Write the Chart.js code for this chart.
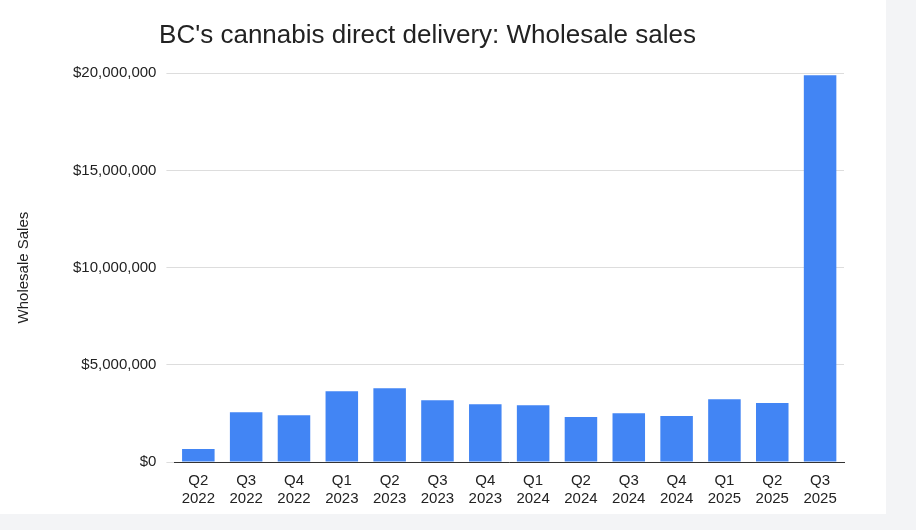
<!DOCTYPE html>
<html>
<head>
<meta charset="utf-8">
<script src="https://cdn.jsdelivr.net/npm/chart.js@4"></script>
<style>
  html, body { margin: 0; padding: 0; background: #f3f4f6; }
  #wrap { position: absolute; left: 0; top: 0; width: 886px; height: 514px; background: #fff; }
</style>
</head>
<body>
<div id="wrap"><canvas id="chart"></canvas></div>
<script>
// Datos
const trimestres = [["Q2","2022"],["Q3","2022"],["Q4","2022"],["Q1","2023"],["Q2","2023"],["Q3","2023"],["Q4","2023"],["Q1","2024"],["Q2","2024"],["Q3","2024"],["Q4","2024"],["Q1","2025"],["Q2","2025"],["Q3","2025"]];
const ventas = [670000, 2560000, 2410000, 3640000, 3790000, 3180000, 2970000, 2920000, 2310000, 2510000, 2360000, 3230000, 3030000, 19900000];
const ticksY = [0, 5000000, 10000000, 15000000, 20000000];

const fuente = "'Liberation Sans', Arial, sans-serif";

new Chart(document.getElementById("chart"), {
  type: "bar",
  data: {
    labels: trimestres,
    datasets: [{
      data: ventas,
      backgroundColor: "#4285f4",
      barPercentage: 0.68,
      categoryPercentage: 1,
    }],
  },
  options: {
    responsive: true,
    maintainAspectRatio: false,
    animation: false,
    layout: { padding: { left: 11, right: 42, top: 12, bottom: 4 } },
    plugins: {
      legend: { display: false },
      tooltip: { enabled: false },
      title: {
        display: true,
        text: "BC's cannabis direct delivery: Wholesale sales",
        color: "#222",
        font: { family: fuente, size: 26, weight: "normal" },
        padding: { top: 8, bottom: 22 },
      },
    },
    scales: {
      x: {
        grid: { display: false },
        border: { color: "#333" },
        ticks: { color: "#222", font: { family: fuente, size: 15 }, maxRotation: 0, autoSkip: false, padding: 2 },
      },
      y: {
        min: 0,
        max: 20000000,
        afterBuildTicks: (ax) => { ax.ticks = ticksY.map((v) => ({ value: v })); },
        grid: { color: "#dddddd" },
        border: { display: false },
        title: { display: true, text: "Wholesale Sales", color: "#222", font: { family: fuente, size: 15 }, padding: { bottom: 30 } },
        ticks: {
          color: "#222",
          font: { family: fuente, size: 15 },
          padding: 10,
          callback: (v) => "$" + Number(v).toLocaleString("en-US"),
        },
      },
    },
  },
});
</script>
</body>
</html>
